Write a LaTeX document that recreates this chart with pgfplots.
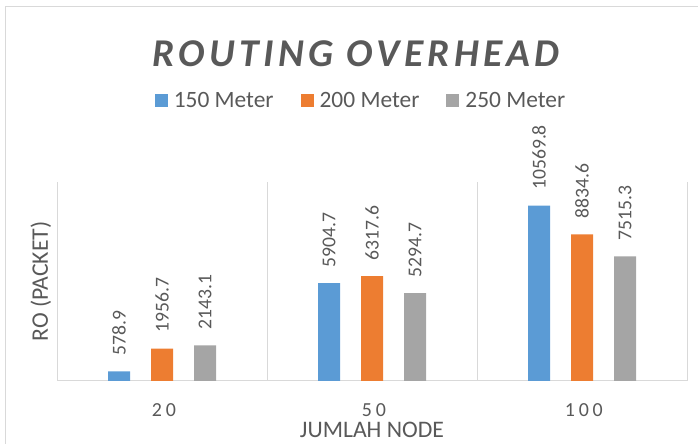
\documentclass[border=0pt]{standalone}
\usepackage{fontspec}
\setmainfont{Carlito}
\usepackage{pgfplots}
\pgfplotsset{compat=1.18}
\definecolor{txt}{HTML}{595959}
\definecolor{gridc}{HTML}{D9D9D9}
\definecolor{c1}{HTML}{5B9BD5}
\definecolor{c2}{HTML}{ED7D31}
\definecolor{c3}{HTML}{A5A5A5}
\pgfplotsset{sqlegend/.style={legend image code/.code={\fill[##1,draw=none] (0bp,-6.5bp) rectangle (13bp,6.5bp);}}}
\begin{document}
\begin{tikzpicture}
\useasboundingbox (0bp,0bp) rectangle (698bp,444bp);
\draw[gridc, line width=1bp] (5bp,0bp) -- (5bp,437bp) -- (698bp,437bp);
\node[txt, anchor=base, inner sep=0pt, font=\fontsize{39.5}{40}\selectfont\bfseries\itshape\addfontfeature{LetterSpace=11}] at (356bp,377bp) {ROUTING OVERHEAD};
\begin{axis}[
  at={(57bp,63bp)}, anchor=south west, scale only axis,
  width=630bp, height=199bp,
  xmin=-0.5, xmax=2.5, ymin=0, ymax=12000,
  enlargelimits=false, clip=false,
  ybar=21bp, bar width=22bp,
  axis x line*=bottom, axis y line*=left,
  x axis line style={gridc, line width=1bp, -},
  y axis line style={draw=none},
  ytick=\empty,
  xtick={0,1,2}, xticklabels={20,50,100},
  major tick length=0pt, minor tick length=0pt,
  minor xtick={-0.5,0.5,1.5,2.5}, xminorgrids=true,
  minor grid style={gridc, line width=1bp},
  xticklabel style={txt, inner sep=0pt, anchor=north, yshift=-22bp, xshift=1.9bp,
    font=\fontsize{20}{22}\selectfont\addfontfeature{LetterSpace=19}},
  xlabel={JUMLAH NODE}, ylabel={RO (PACKET)},
  xlabel style={txt, font=\fontsize{23.8}{26}\selectfont, inner sep=0pt,
    at={(axis description cs:0.5,-0.2864)}, anchor=base},
  ylabel style={txt, font=\fontsize{23.8}{26}\selectfont, inner sep=0pt,
    at={(axis description cs:-0.0143,0.5)}, anchor=base},
  nodes near coords,
  /pgf/number format/.cd, fixed, fixed zerofill, precision=1, 1000 sep={}, assume math mode=true, /pgfplots/.cd,
  nodes near coords style={txt, font=\fontsize{19.7}{21}\selectfont, rotate=90, anchor=west, inner sep=0pt, outer xsep=16bp},
  sqlegend,
  legend columns=3,
  legend style={draw=none, fill=none, at={(rel axis cs:0.481,1.4095)}, anchor=center,
    font=\fontsize{23.5}{25}\selectfont, text=txt,
    /tikz/every odd column/.append style={column sep=6bp},
    /tikz/every even column/.append style={column sep=27bp},
    nodes={inner sep=0pt}},
]
\addplot[fill=c1, draw=none] coordinates {(0,578.9) (1,5904.7) (2,10569.8)};
\addplot[fill=c2, draw=none] coordinates {(0,1956.7) (1,6317.6) (2,8834.6)};
\addplot[fill=c3, draw=none] coordinates {(0,2143.1) (1,5294.7) (2,7515.3)};
\legend{150 Meter, 200 Meter, 250 Meter}
\end{axis}
\end{tikzpicture}
\end{document}
